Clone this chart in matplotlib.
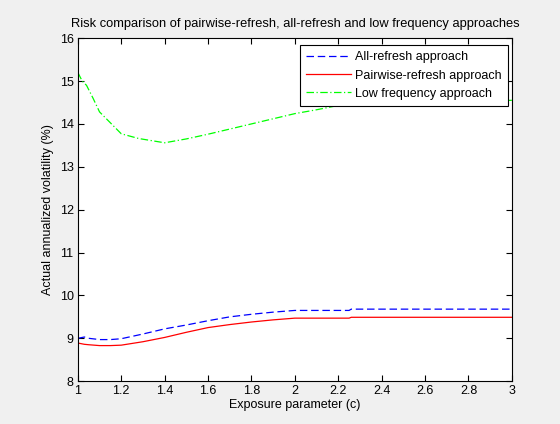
import matplotlib
matplotlib.use("Agg")
import matplotlib.pyplot as plt

plt.rcParams["font.family"] = ["Liberation Sans", "DejaVu Sans"]

x_vals = [1.0, 1.03, 1.05, 1.1, 1.15, 1.2, 1.3, 1.4, 1.5, 1.6, 1.7, 1.8, 1.9, 2.0, 2.1, 2.25, 2.26, 2.5, 2.75, 3.0]
all_refresh = [9.0, 9.03, 9.0, 8.97, 8.97, 8.99, 9.1, 9.22, 9.31, 9.41, 9.5, 9.56, 9.61, 9.65, 9.65, 9.65, 9.68, 9.68, 9.68, 9.68]
pairwise = [8.89, 8.86, 8.85, 8.83, 8.83, 8.84, 8.92, 9.02, 9.14, 9.25, 9.32, 9.38, 9.43, 9.47, 9.47, 9.47, 9.49, 9.49, 9.49, 9.49]
low_x = [1.0, 1.02, 1.04, 1.07, 1.1, 1.155, 1.2, 1.28, 1.4, 1.5, 1.6, 1.7, 1.8, 1.9, 2.0, 2.1, 2.2, 2.25, 2.26, 2.5, 2.75, 3.0]
low_freq = [15.2, 15.0, 14.9, 14.6, 14.28, 14.0, 13.77, 13.66, 13.56, 13.65, 13.76, 13.88, 14.0, 14.12, 14.24, 14.33, 14.43, 14.47, 14.52, 14.53, 14.54, 14.55]

xticks = [1, 1.2, 1.4, 1.6, 1.8, 2, 2.2, 2.4, 2.6, 2.8, 3]
yticks = [8, 9, 10, 11, 12, 13, 14, 15, 16]

fig = plt.figure(figsize=(5.6, 4.24), dpi=100, facecolor="#f0f0f0")
ax = fig.add_axes([0.139, 0.101, 0.775, 0.809])
ax.plot(x_vals, all_refresh, color="blue", linestyle=(0, (6, 3)), linewidth=0.9, label="All-refresh approach")
ax.plot(x_vals, pairwise, color="red", linestyle="-", linewidth=0.9, label="Pairwise-refresh approach")
ax.plot(low_x, low_freq, color="#00ff00", linestyle=(0, (6, 2, 1, 2)), linewidth=0.9, label="Low frequency approach")

ax.set_xlim(1, 3)
ax.set_ylim(8, 16)
ax.set_xticks(xticks)
ax.set_xticklabels([f"{t:g}" for t in xticks])
ax.set_yticks(yticks)
ax.tick_params(direction="in", top=True, right=True, labelsize=9, length=4, pad=3)
for s in ax.spines.values():
    s.set_linewidth(0.8)
ax.set_xlabel("Exposure parameter (c)", fontsize=9, labelpad=1)
ax.set_ylabel("Actual annualized volatility (%)", fontsize=9, labelpad=4)
ax.set_title("Risk comparison of pairwise-refresh, all-refresh and low frequency approaches", fontsize=9.25, pad=8)
leg = ax.legend(loc="upper right", fontsize=9, fancybox=False, framealpha=1, edgecolor="black",
                borderpad=0.5, labelspacing=0.5, handlelength=3.55, handletextpad=0.35,
                borderaxespad=0, bbox_to_anchor=(0.991, 0.98))
leg.get_frame().set_linewidth(0.8)
fig.savefig("out.png", dpi=100, facecolor=fig.get_facecolor())
